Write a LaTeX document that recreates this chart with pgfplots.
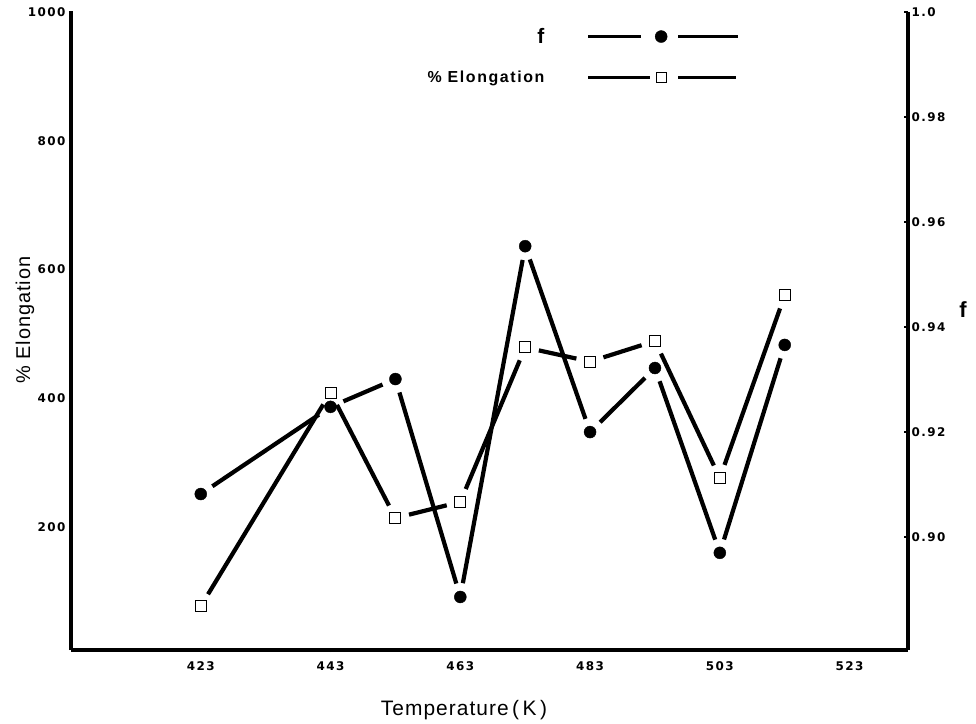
\documentclass[border=0pt]{standalone}
\usepackage{fontspec}
\setmainfont{Liberation Sans}
\newfontfamily\tickfont[LetterSpace=12]{DejaVu Sans}
\newfontfamily\legfont[LetterSpace=10]{Liberation Sans}
\newfontfamily\labfont[LetterSpace=5]{Liberation Sans}
\usepackage{pgfplots}
\pgfplotsset{compat=1.18}

% elongation (%) per temperature, segments drawn with gaps near markers
\pgfplotstableread{
x   y    u   v
423 77   20  332
443 409  10  -195
453 214  10  25
463 239  10  240
473 479  10  -22
483 457  10  32
493 489  10  -213
503 276  10  284
513 560  0   0
}\elong

\pgfplotstableread{
x   y       u   v
423 0.9082  20  0.0166
443 0.9248  10  0.0053
453 0.9301  10  -0.0415
463 0.8886  10  0.0668
473 0.9554  10  -0.0354
483 0.9200  10  0.0122
493 0.9322  10  -0.0352
503 0.8970  10  0.0396
513 0.9366  0   0
}\fdata

\begin{document}
\begin{tikzpicture}
\pgfplotsset{
  common/.style={
    at={(0,0)}, anchor=south west, scale only axis,
    width=837bp, height=638bp,
    xmin=403, xmax=532,
    tick style={line width=1.3bp, black},
    major tick length=4bp,
    tick align=inside,
    ticklabel style={font=\tickfont\bfseries\fontsize{12}{14}\selectfont},
    clip=false,
  },
  noarrows/.style={
    axis line style={-, line width=3.5bp},
    every outer x axis line/.append style={-},
    every outer y axis line/.append style={-},
    every inner x axis line/.append style={-},
    every inner y axis line/.append style={-},
  },
  seg/.style={
    quiver={u=\thisrow{u}, v=\thisrow{v},
      every arrow/.append style={shorten <=14bp, shorten >=14bp}},
    -, black, line width=4.2bp, mark=none, forget plot},
  fmark/.style={only marks, mark=*, mark size=6bp, black, forget plot},
  emark/.style={only marks, mark=square*, mark size=5.5bp,
    mark options={fill=white, draw=black, line width=0.9bp}, forget plot},
}

\begin{axis}[common,
  axis x line=bottom, axis y line=left, noarrows,
  ymin=9, ymax=1000,
  xtick={423,443,463,483,503,523},
  xticklabels={423,443,463,483,503,523},
  xticklabel style={yshift=-6bp},
  ytick={200,400,600,800,1000},
  yticklabels={200,400,600,800,1000},
  xlabel={Temperature\,(\,K\,)},
  ylabel={\% Elongation},
  every axis x label/.style={at={(axis description cs:0.4695,-0.094)}, anchor=center,
    font=\labfont\fontsize{21}{24}\selectfont},
  every axis y label/.style={at={(axis description cs:-0.055,0.517)}, rotate=90, anchor=center,
    font=\labfont\fontsize{20}{23}\selectfont},
]
\addplot[seg] table[x=x, y=y] {\elong};
\addplot[emark] table[x=x, y=y] {\elong};
\end{axis}

\begin{axis}[common,
  axis x line=none, axis y line*=right, noarrows,
  ymin=0.8785, ymax=1.0,
  ytick={0.90,0.92,0.94,0.96,0.98,1.0},
  yticklabels={0.90,0.92,0.94,0.96,0.98,1.0},
  ylabel={f},
  every axis y label/.style={at={(axis description cs:1.0657,0.533)}, rotate=0, anchor=center,
    font=\bfseries\fontsize{22}{24}\selectfont},
  legend style={draw=none, fill=none, at={(axis description cs:0.7995,0.978)}, anchor=north east,
    inner sep=0pt, column sep=40bp, row sep=22bp,
    font=\legfont\bfseries\fontsize{16}{18}\selectfont},
  legend cell align=right,
  legend plot pos=right,
]
\addplot[seg] table[x=x, y=y] {\fdata};
\addplot[fmark] table[x=x, y=y] {\fdata};
\addlegendimage{legend image code/.code={
  \draw[line width=3.6bp] (0bp,0bp) -- (53bp,0bp);
  \draw[line width=3.6bp] (90bp,0bp) -- (150bp,0bp);
  \draw[mark=*, mark size=6bp, only marks] plot coordinates {(73bp,0bp)};}}
\addlegendentry{\fontsize{21}{22}\selectfont f}
\addlegendimage{legend image code/.code={
  \draw[line width=3.6bp] (0bp,0bp) -- (62bp,0bp);
  \draw[line width=3.6bp] (90bp,0bp) -- (148bp,0bp);
  \draw[mark=square*, mark size=5bp, mark options={fill=white, draw=black, line width=0.9bp}, only marks] plot coordinates {(73bp,0bp)};}}
\addlegendentry{\% Elongation}
\end{axis}

\path[use as bounding box] (-71bp,-74bp) rectangle (905bp,650bp);
\end{tikzpicture}
\end{document}
